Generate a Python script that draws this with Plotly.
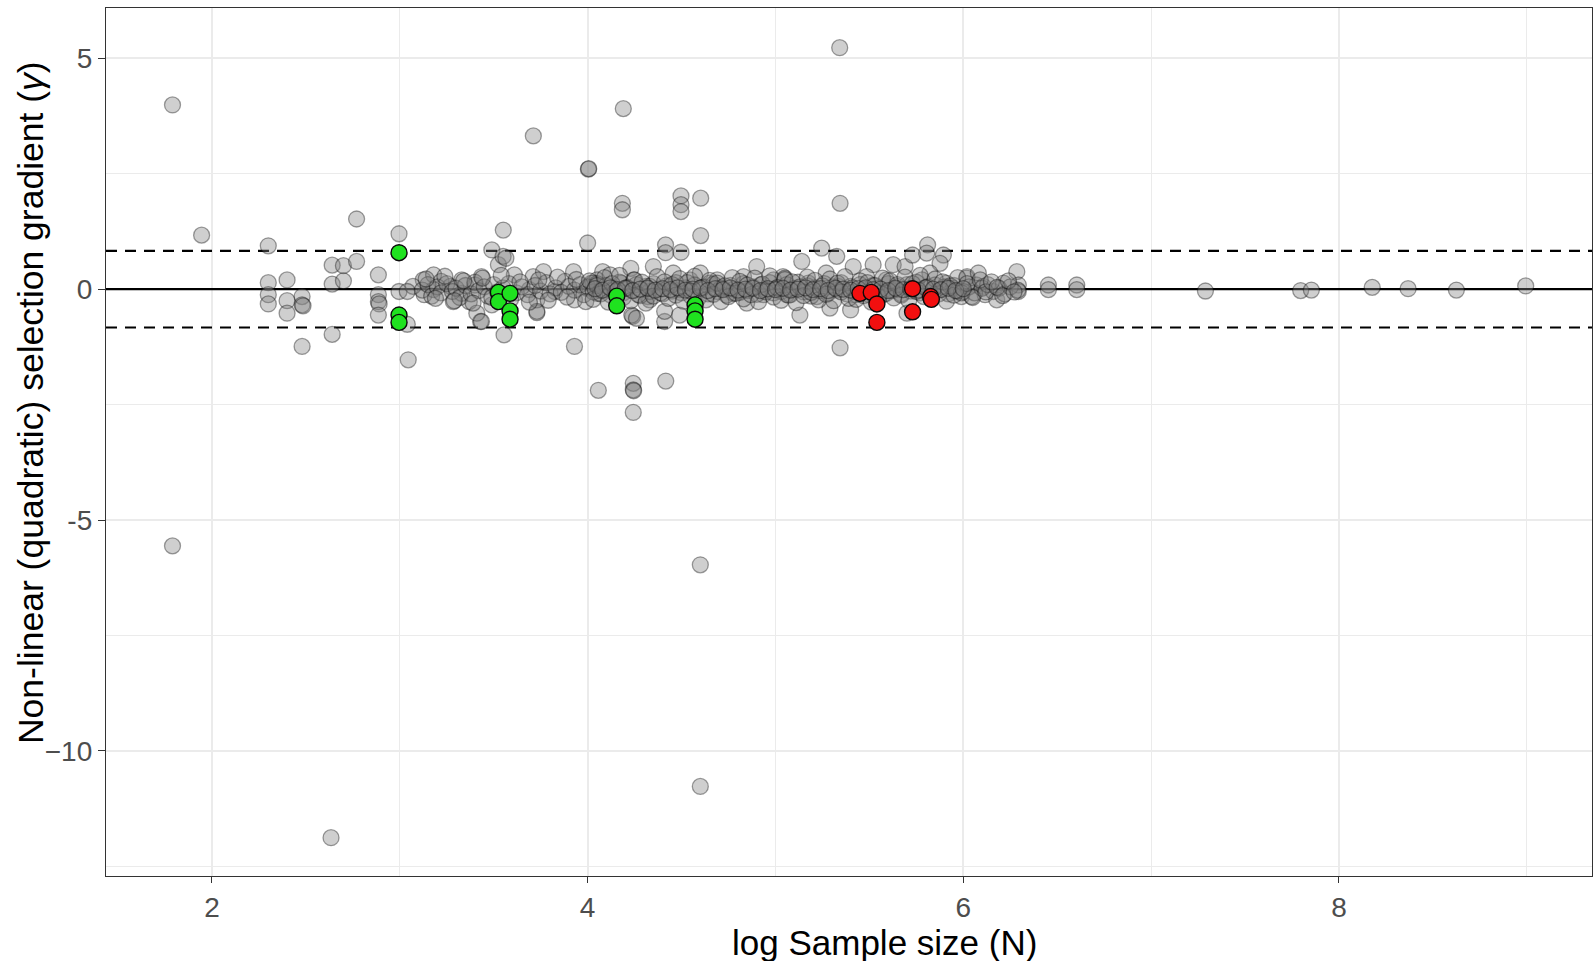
import plotly.graph_objects as go

# ---- data: log sample size (x) and non-linear selection gradient (y) ----
gray_x = [
    1.79, 1.945, 1.79, 2.30, 2.30, 2.30, 2.30, 2.40, 2.40, 2.40, 2.48, 2.48, 2.485, 2.48,
    2.64, 2.64, 2.64, 2.70, 2.70, 2.77, 2.77, 2.886, 2.886, 2.886, 2.89, 2.886, 2.996, 2.996,
    3.04, 3.045, 2.634,
    3.711, 4.004, 4.006, 4.185, 4.185, 4.497, 4.497, 4.497, 4.602, 4.602, 3.551, 3.49, 4.00,
    4.415, 4.415, 4.497, 3.525, 3.55, 3.73, 3.43, 4.41, 4.24, 3.555, 3.93, 4.19, 5.342, 5.344,
    5.344, 4.60, 4.60, 4.057, 4.243, 4.243, 4.245, 4.243, 4.416,
    3.565, 3.61, 3.125, 3.18, 3.22, 3.13, 3.18, 3.27, 3.285, 3.33, 3.33, 3.37, 3.40, 3.435,
    3.41, 3.435, 3.49, 3.69, 3.73, 3.71, 3.765, 3.73, 3.825, 3.88, 3.925, 3.93, 3.995, 4.03,
    3.07, 3.04,
    4.35, 4.23, 4.08, 4.05, 4.12, 4.18, 4.245, 4.32, 4.33, 4.235, 4.26, 4.41, 4.49, 4.456,
    4.44, 4.49, 4.545, 4.60, 4.65, 4.72, 4.69, 4.776, 4.83, 4.847, 4.90, 4.936, 4.99, 5.04,
    5.06, 4.05, 4.02,
    5.246, 5.326, 5.14, 5.13, 5.05, 5.09, 5.175, 5.22, 5.27, 5.29, 5.335, 5.40, 5.414, 5.52,
    5.574, 5.627, 5.69, 5.70, 5.73, 5.81, 5.805, 5.894, 5.876, 5.822, 5.78, 5.91, 5.947, 5.99,
    6.018, 6.07, 5.485, 5.59, 5.645, 5.43,
    6.02, 6.08, 6.0, 6.045, 6.107, 6.116, 6.16, 6.178, 6.214, 6.285, 6.293, 6.293, 6.453, 6.453,
    6.604, 6.604,
    7.289, 7.796, 7.853, 8.177, 8.368, 8.625, 8.994,
    3.12, 3.15, 3.17, 3.20, 3.22, 3.25, 3.28, 3.30, 3.32, 3.35, 3.38, 3.40, 3.42, 3.45, 3.47,
    3.50, 3.52, 3.55, 3.58, 3.62, 3.65, 3.68, 3.72, 3.75, 3.78, 3.80, 3.83, 3.86, 3.90, 3.93,
    3.96, 3.98,
    4.00, 4.03, 4.05, 4.07, 4.10, 4.12, 4.14, 4.17, 4.19, 4.21, 4.24, 4.26, 4.28, 4.31, 4.33,
    4.35, 4.38, 4.40, 4.42, 4.45, 4.47, 4.50, 4.52, 4.55, 4.57, 4.60, 4.62, 4.64, 4.67, 4.69,
    4.71, 4.74, 4.76, 4.78, 4.81, 4.83, 4.85, 4.88, 4.90, 4.92, 4.95, 4.97, 4.99,
    5.01, 5.03, 5.06, 5.08, 5.10, 5.12, 5.15, 5.17, 5.19, 5.21, 5.24, 5.26, 5.28, 5.31, 5.33,
    5.35, 5.38, 5.40, 5.42, 5.45, 5.47, 5.50, 5.52, 5.55, 5.57, 5.60, 5.62, 5.65, 5.67, 5.70,
    5.72, 5.75, 5.77, 5.80, 5.82, 5.85, 5.87, 5.90, 5.92, 5.95, 5.97,
    6.03, 6.06, 6.10, 6.13, 6.19, 6.22, 6.25, 6.29,
]
gray_y = [
    3.99, 1.17, -5.56, 0.94, 0.14, -0.12, -0.32, 0.20, -0.25, -0.52, -0.16, -0.34, -0.36, -1.24,
    0.52, 0.11, -0.98, 0.51, 0.18, 1.52, 0.60, 0.31, -0.12, -0.27, -0.32, -0.56, 1.20, -0.05,
    -0.76, -1.53, -11.88,
    3.32, 2.60, 2.61, 1.86, 1.72, 2.02, 1.83, 1.68, 1.97, 1.16, 1.28, 0.85, 1.00,
    0.96, 0.79, 0.80, 0.53, 0.71, -0.51, -0.70, -0.70, -0.59, -0.99, -1.24, 3.91, 5.23, 1.86,
    -1.27, -10.77, -5.97, -2.19, -2.04, -2.18, -2.20, -2.67, -1.99,
    0.67, 0.31, 0.20, 0.31, 0.17, -0.12, -0.01, 0.06, -0.27, -0.09, 0.20, -0.27, 0.09, 0.27,
    -0.52, -0.70, -0.34, -0.01, -0.23, 0.27, 0.38, -0.48, -0.05, 0.17, 0.38, -0.23, 0.02, 0.13,
    0.06, -0.05,
    0.49, 0.45, 0.38, 0.20, 0.31, 0.13, 0.20, -0.16, -0.23, -0.56, -0.63, -0.48, -0.56, 0.35,
    0.06, -0.01, 0.20, 0.35, 0.13, 0.02, 0.20, -0.09, 0.27, -0.30, 0.49, -0.12, 0.20, 0.27,
    -0.12, -0.09, 0.13,
    0.89, 0.71, 0.60, -0.56, 0.24, -0.01, 0.13, -0.16, 0.35, -0.41, 0.06, -0.45, 0.49, 0.53,
    -0.12, 0.53, 0.49, -0.52, 0.74, 0.96, 0.78, 0.74, 0.56, 0.35, 0.20, 0.13, 0.02, -0.16,
    0.24, 0.09, 0.27, 0.20, -0.01, -0.12,
    0.27, 0.35, -0.05, -0.16, 0.06, -0.12, -0.05, -0.23, 0.13, 0.38, 0.09, -0.05, 0.09, -0.01,
    0.09, -0.01,
    -0.04, -0.03, -0.02, 0.04, 0.01, -0.02, 0.07,
    -0.02, 0.10, -0.15, 0.05, -0.08, 0.12, -0.05, 0.02, -0.18, 0.08, -0.10, 0.15, -0.03, 0.05, -0.15,
    0.10, -0.06, 0.03, 0.12, -0.08, 0.05, -0.12, 0.08, -0.04, 0.14, -0.10, 0.03, -0.07, 0.06, -0.02,
    0.10, -0.12,
    0.05, -0.06, 0.12, -0.03, 0.08, -0.12, 0.02, 0.15, -0.08, 0.04, -0.02, 0.10, -0.14, 0.06, -0.05,
    0.12, 0.00, -0.10, 0.07, -0.04, 0.14, -0.08, 0.03, -0.15, 0.09, -0.02, 0.05, -0.10, 0.11, -0.05,
    0.03, -0.13, 0.08, 0.00, -0.07, 0.12, -0.03, 0.05, -0.11, 0.09, -0.02, 0.14, -0.08,
    0.04, -0.05, 0.10, -0.12, 0.02, 0.15, -0.06, 0.07, -0.15, 0.03, -0.03, 0.12, -0.09, 0.05, -0.02,
    0.14, -0.10, 0.06, -0.05, 0.10, 0.00, -0.12, 0.08, 0.02, -0.06, 0.12, -0.03, 0.06, -0.10, 0.10,
    -0.04, 0.15, -0.08, 0.04, -0.14, 0.09, -0.02, 0.05, -0.10, 0.08, -0.04,
    0.05, -0.08, 0.02, 0.10, 0.02, -0.10, 0.05, -0.02,
]

# second group of gray studies forming the wider part of the central band
band_x = [
    3.14, 3.19, 3.24, 3.29, 3.34, 3.39, 3.44, 3.49, 3.54, 3.59, 3.64, 3.69, 3.74, 3.79, 3.84,
    3.89, 3.94, 3.99,
    4.01, 4.03, 4.05, 4.07, 4.09, 4.11, 4.13, 4.15, 4.17, 4.19,
    4.21, 4.23, 4.25, 4.27, 4.29, 4.31, 4.33, 4.35, 4.37, 4.39,
    4.41, 4.43, 4.45, 4.47, 4.49, 4.51, 4.53, 4.55, 4.57, 4.59,
    4.61, 4.63, 4.65, 4.67, 4.69, 4.71, 4.73, 4.75, 4.77, 4.79,
    4.81, 4.83, 4.85, 4.87, 4.89, 4.91, 4.93, 4.95, 4.97, 4.99,
    5.01, 5.03, 5.05, 5.07, 5.09, 5.11, 5.13, 5.15, 5.17, 5.19,
    5.21, 5.23, 5.25, 5.27, 5.29, 5.31, 5.33, 5.35, 5.37, 5.39,
    5.41, 5.43, 5.45, 5.47, 5.49, 5.51, 5.53, 5.55, 5.57, 5.59,
    5.61, 5.63, 5.65, 5.67, 5.69, 5.71, 5.73, 5.75, 5.77, 5.79,
    5.81, 5.83, 5.85, 5.87, 5.89, 5.91, 5.93, 5.95, 5.97, 5.99,
    6.02, 6.05, 6.09, 6.12, 6.15, 6.18, 6.21, 6.24, 6.27,
    4.04, 4.08, 4.12, 4.16, 4.20, 4.24, 4.28, 4.32, 4.36, 4.40, 4.44, 4.48, 4.52, 4.56, 4.60,
    4.64, 4.68, 4.72, 4.76, 4.80, 4.84, 4.88, 4.92, 4.96, 5.00, 5.04, 5.08, 5.12, 5.16, 5.20,
    5.24, 5.28, 5.32, 5.36, 5.40, 5.44, 5.48, 5.52, 5.56, 5.60, 5.64, 5.68, 5.72, 5.76, 5.80,
    5.84, 5.88, 5.92, 5.96, 6.00,
]
band_y = [
    0.22, -0.20, 0.28, -0.25, 0.18, -0.30, 0.24, -0.18, 0.30, -0.22, 0.16, -0.28, 0.20, -0.24, 0.26,
    -0.17, 0.21, -0.27,
    0.18, -0.22, 0.08, -0.10, 0.25, -0.28, 0.12, -0.05, 0.30, -0.18,
    0.02, -0.25, 0.20, -0.12, 0.15, -0.30, 0.06, -0.15, 0.27, -0.08,
    0.16, -0.20, 0.10, -0.13, 0.23, -0.26, 0.14, -0.04, 0.28, -0.19,
    0.04, -0.23, 0.19, -0.11, 0.13, -0.27, 0.07, -0.16, 0.25, -0.09,
    0.17, -0.21, 0.09, -0.12, 0.24, -0.27, 0.11, -0.06, 0.29, -0.17,
    0.03, -0.24, 0.21, -0.13, 0.16, -0.29, 0.05, -0.14, 0.26, -0.07,
    0.19, -0.23, 0.07, -0.11, 0.22, -0.25, 0.13, -0.06, 0.27, -0.20,
    0.03, -0.22, 0.18, -0.14, 0.14, -0.28, 0.08, -0.17, 0.24, -0.09,
    0.18, -0.19, 0.10, -0.13, 0.26, -0.24, 0.12, -0.05, 0.30, -0.16,
    0.05, -0.21, 0.22, -0.10, 0.16, -0.26, 0.07, -0.13, 0.25, -0.08,
    0.12, -0.18, 0.20, -0.06, 0.16, 0.04, -0.14, 0.18, -0.06,
    0.01, -0.02, 0.03, -0.01, 0.02, -0.03, 0.00, 0.02, -0.02, 0.01, -0.01, 0.03, -0.02, 0.00, 0.02,
    -0.03, 0.01, -0.01, 0.03, -0.02, 0.00, 0.02, -0.03, 0.01, -0.01, 0.02, -0.02, 0.00, 0.03, -0.01,
    0.01, -0.03, 0.02, 0.00, -0.02, 0.01, 0.03, -0.01, 0.00, -0.03, 0.02, -0.01, 0.01, -0.02, 0.03,
    0.00, -0.01, 0.02, -0.03, 0.01,
]

green_x = [2.996, 2.996, 2.996, 3.525, 3.525, 3.587, 3.587, 3.587, 4.155, 4.155, 4.572, 4.572, 4.572]
green_y = [0.79, -0.56, -0.72, -0.07, -0.27, -0.09, -0.47, -0.65, -0.15, -0.36, -0.34, -0.47, -0.65]

red_x = [5.45, 5.51, 5.54, 5.54, 5.73, 5.73, 5.826, 5.83]
red_y = [-0.09, -0.07, -0.32, -0.72, 0.01, -0.49, -0.16, -0.22]

ref_line = 0.0
threshold = 0.83

x_range = [1.436, 9.347]
y_range = [-12.71, 6.09]
x_ticks = [2, 4, 6, 8]
x_minor = [3, 5, 7, 9]
y_ticks = [-10, -5, 0, 5]
y_ticktext = ["\u221210", "-5", "0", "5"]
y_minor = [-12.5, -7.5, -2.5, 2.5]

FONT = "Liberation Sans, Arial, Helvetica, sans-serif"
GRID = "#EBEBEB"

fig = go.Figure()

# reference lines (under the points)
fig.add_trace(go.Scatter(x=x_range, y=[ref_line, ref_line], mode="lines", showlegend=False,
                         hoverinfo="skip", line=dict(color="black", width=2.2)))
for yv in (threshold, -threshold):
    fig.add_trace(go.Scatter(x=x_range, y=[yv, yv], mode="lines", showlegend=False,
                             hoverinfo="skip",
                             line=dict(color="black", width=2.2, dash="11px,8px")))

gray_marker = dict(size=16, color="rgba(128,128,128,0.38)",
                   line=dict(color="rgba(0,0,0,0.37)", width=1.3))
fig.add_trace(go.Scatter(x=gray_x, y=gray_y, mode="markers", showlegend=False, marker=gray_marker))
fig.add_trace(go.Scatter(x=band_x, y=band_y, mode="markers", showlegend=False, marker=gray_marker))
fig.add_trace(go.Scatter(
    x=green_x, y=green_y, mode="markers", showlegend=False,
    marker=dict(size=16, color="#1FE21F", line=dict(color="#0A0A0A", width=1.4)),
))
fig.add_trace(go.Scatter(
    x=red_x, y=red_y, mode="markers", showlegend=False,
    marker=dict(size=16, color="#F20F0F", line=dict(color="#0A0A0A", width=1.4)),
))

fig.update_xaxes(
    range=x_range, tickmode="array", tickvals=x_ticks,
    ticks="outside", ticklen=6, tickwidth=1.2, tickcolor="#333333",
    tickfont=dict(family=FONT, size=28, color="#4D4D4D"),
    showgrid=True, gridcolor=GRID, gridwidth=1.8, zeroline=False,
    showline=True, linecolor="#333333", linewidth=1.3, mirror=True,
    minor=dict(tickmode="array", tickvals=x_minor, showgrid=True, gridcolor=GRID,
               gridwidth=1.1, ticks=""),
)
fig.update_yaxes(
    range=y_range, tickmode="array", tickvals=y_ticks, ticktext=y_ticktext,
    ticks="outside", ticklen=7, tickwidth=1.2, tickcolor="#333333",
    tickfont=dict(family=FONT, size=28, color="#4D4D4D"),
    showgrid=True, gridcolor=GRID, gridwidth=1.8, zeroline=False,
    showline=True, linecolor="#333333", linewidth=1.3, mirror=True,
    minor=dict(tickmode="array", tickvals=y_minor, showgrid=True, gridcolor=GRID,
               gridwidth=1.1, ticks=""),
)

fig.add_annotation(
    text="Non-linear (quadratic) selection gradient (<i>\u03b3</i>)",
    xref="paper", yref="paper", x=-0.0505, y=0.546, xanchor="center", yanchor="middle",
    textangle=-90, showarrow=False, font=dict(family=FONT, size=35.5, color="black"),
)
fig.add_annotation(
    text="log Sample size (N)",
    xref="paper", yref="paper", x=0.524, y=-0.0765, xanchor="center", yanchor="middle",
    showarrow=False, font=dict(family=FONT, size=35, color="black"),
)

fig.update_layout(
    width=1595, height=961,
    margin=dict(l=106, r=3, t=8, b=85),
    paper_bgcolor="white", plot_bgcolor="white",
    font=dict(family=FONT),
)

fig.write_html("out.html")
